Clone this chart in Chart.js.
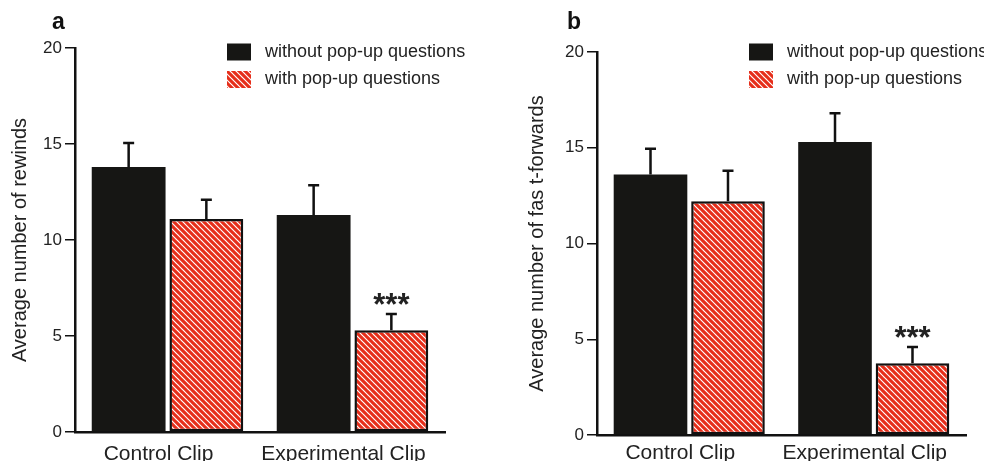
<!DOCTYPE html>
<html><head><meta charset="utf-8">
<script src="https://cdn.jsdelivr.net/npm/chart.js@4.4.0/dist/chart.umd.min.js"></script>
<style>
html,body{margin:0;padding:0;background:#fff;}
#wrap{position:relative;width:984px;height:461px;overflow:hidden;}
canvas{position:absolute;top:0;}
</style></head><body>
<div id="wrap">
<canvas id="ca" width="492" height="461" style="left:0"></canvas>
<canvas id="cb" width="492" height="461" style="left:492px"></canvas>
</div>
<script>
// ---- data ----
const categories = ['Control Clip', 'Experimental Clip'];
const seriesLabels = ['without pop-up questions', 'with pop-up questions'];
const yTicks = [0, 5, 10, 15, 20];

const rewindsWithout = [13.8, 11.3];
const rewindsWith = [11.1, 5.3];
const rewindsWithoutErr = [1.25, 1.55];
const rewindsWithErr = [1.0, 0.85];
const rewindsSig = ['', '***'];

const ffWithout = [13.6, 15.3];
const ffWith = [12.2, 3.75];
const ffWithoutErr = [1.35, 1.5];
const ffWithErr = [1.6, 0.85];
const ffSig = ['', '***'];

const FONT = '"Liberation Sans", Arial, sans-serif';
const TXT = '#222';
const BLACK = '#161614';
const RED = '#e62e1a';

function makeHatch(ctx) {
  const c = document.createElement('canvas');
  c.width = 6; c.height = 6;
  const x = c.getContext('2d');
  x.fillStyle = '#fff'; x.fillRect(0, 0, 6, 6);
  x.strokeStyle = RED; x.lineWidth = 3.1;
  x.beginPath();
  for (const k of [-6, 0, 6]) { x.moveTo(k - 1, -1); x.lineTo(k + 7, 7); }
  x.stroke();
  return ctx.createPattern(c, 'repeat');
}

const extras = {
  id: 'extras',
  afterDatasetsDraw(chart, args, opts) {
    const ctx = chart.ctx, ys = chart.scales.y, ca = chart.chartArea;
    chart.data.datasets.forEach((ds, di) => {
      const meta = chart.getDatasetMeta(di);
      meta.data.forEach((bar, i) => {
        const top = ys.getPixelForValue(ds.data[i]);
        const et = ys.getPixelForValue(ds.data[i] + ds.errors[i]);
        ctx.save();
        ctx.strokeStyle = '#111'; ctx.lineWidth = 2.5;
        ctx.beginPath();
        ctx.moveTo(bar.x, top); ctx.lineTo(bar.x, et);
        ctx.moveTo(bar.x - 5.5, et); ctx.lineTo(bar.x + 5.5, et);
        ctx.stroke();
        if (ds.sig && ds.sig[i]) {
          ctx.fillStyle = TXT;
          ctx.font = 'bold 31px ' + FONT;
          ctx.textAlign = 'center';
          ctx.textBaseline = 'alphabetic';
          ctx.fillText(ds.sig[i], bar.x, et + 1);
        }
        ctx.restore();
      });
    });
    // legend
    ctx.save();
    const lx = ca.left + opts.legendDx;
    chart.data.datasets.forEach((ds, di) => {
      const by = 43.5 + di * 27.5;
      ctx.fillStyle = ds.backgroundColor;
      ctx.fillRect(lx, by, 24, 17);
      ctx.fillStyle = TXT;
      ctx.font = '18px ' + FONT;
      ctx.textAlign = 'left';
      ctx.textBaseline = 'alphabetic';
      ctx.fillText(ds.label, lx + 38, by + 13);
    });
    // panel letter
    ctx.fillStyle = '#111';
    ctx.font = 'bold 23px ' + FONT;
    ctx.fillText(opts.letter, opts.letterX, 29);
    ctx.restore();
  }
};

function makeChart(id, cfg) {
  const ctx = document.getElementById(id).getContext('2d');
  const pat = makeHatch(ctx);
  return new Chart(ctx, {
    type: 'bar',
    data: {
      labels: categories,
      datasets: [
        { label: seriesLabels[0], data: cfg.without, errors: cfg.withoutErr,
          backgroundColor: BLACK, borderWidth: 0,
          categoryPercentage: 0.84, barPercentage: 0.95 },
        { label: seriesLabels[1], data: cfg.withQ, errors: cfg.withErr, sig: cfg.sig,
          backgroundColor: pat, borderColor: '#111', borderWidth: 2.5, borderSkipped: false,
          categoryPercentage: 0.84, barPercentage: 0.95 }
      ]
    },
    options: {
      responsive: false, animation: false, devicePixelRatio: 1,
      layout: { padding: { left: cfg.padLeft, right: cfg.padRight, top: cfg.padTop, bottom: 0 } },
      plugins: {
        legend: { display: false }, tooltip: { enabled: false },
        extras: { legendDx: 152, letter: cfg.letter, letterX: cfg.letterX }
      },
      scales: {
        x: {
          grid: { display: false, drawTicks: false },
          border: { color: '#111', width: 2.5 },
          ticks: { font: { family: FONT, size: 21 }, color: TXT, padding: cfg.xPad, labelOffset: -9 },
          afterFit(s) { s.height = cfg.xHeight; }
        },
        y: {
          min: 0, max: 20,
          afterBuildTicks(s) { s.ticks = yTicks.map(v => ({ value: v })); },
          grid: { display: true, drawOnChartArea: false, drawTicks: true, tickLength: 10, color: '#111', lineWidth: 1.5 },
          border: { color: '#111', width: 2.5 },
          ticks: { font: { family: FONT, size: 17 }, color: TXT, padding: 3 },
          title: { display: true, text: cfg.yTitle, font: { family: FONT, size: 20 }, color: TXT, padding: { top: 8, bottom: 0 } },
          afterFit(s) { s.width = cfg.yWidth; }
        }
      }
    },
    plugins: [extras]
  });
}

makeChart('ca', {
  without: rewindsWithout, withQ: rewindsWith, withoutErr: rewindsWithoutErr, withErr: rewindsWithErr, sig: rewindsSig,
  yTitle: 'Average number of rewinds', letter: 'a', letterX: 52,
  padLeft: 0, yWidth: 75, padRight: 47, padTop: 48, xHeight: 29, xPad: 10
});
makeChart('cb', {
  without: ffWithout, withQ: ffWith, withoutErr: ffWithoutErr, withErr: ffWithErr, sig: ffSig,
  yTitle: 'Average number of fas t-forwards', letter: 'b', letterX: 75,
  padLeft: 25, yWidth: 80, padRight: 18, padTop: 52, xHeight: 26, xPad: 6
});
</script>
</body></html>
